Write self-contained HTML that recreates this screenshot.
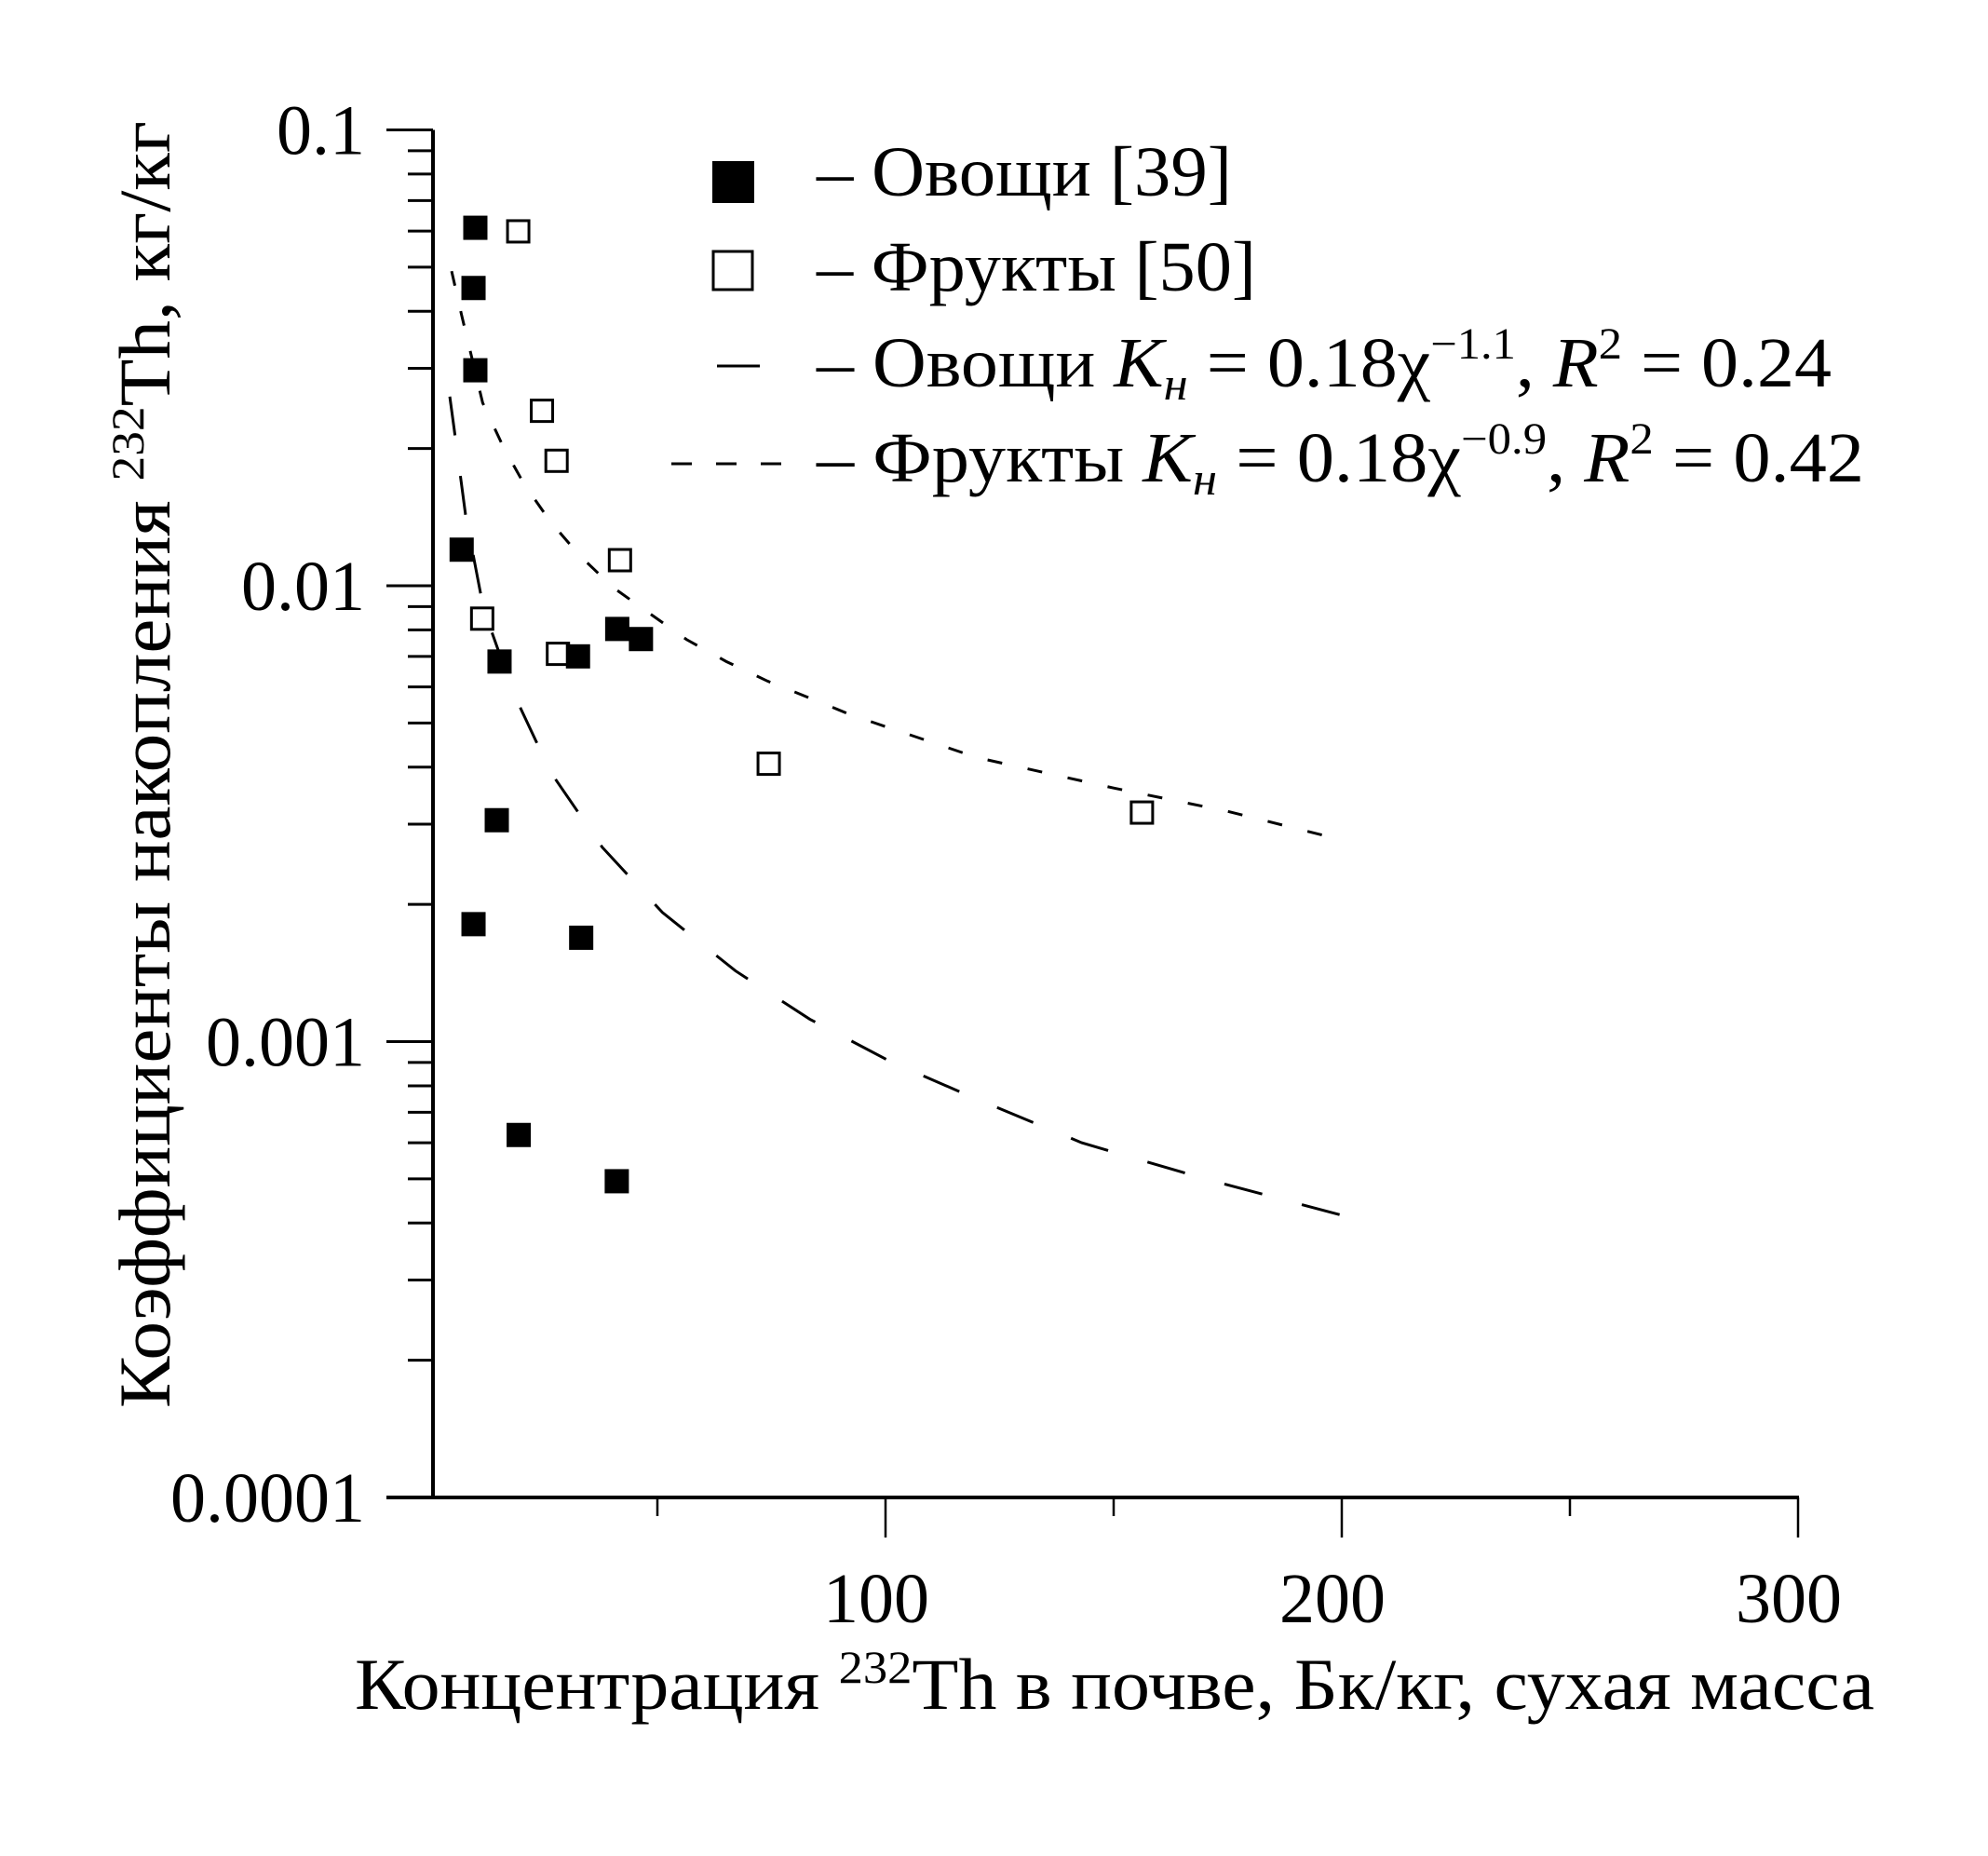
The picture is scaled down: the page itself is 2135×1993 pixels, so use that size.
<!DOCTYPE html>
<html><head><meta charset="utf-8"><style>
html,body{margin:0;padding:0;background:#fff;}
svg{display:block;font-family:"Liberation Serif","Noto Serif CJK SC",serif;}
</style></head><body>
<svg id="chart" width="2135" height="1993" viewBox="0 0 2135 1993" xmlns="http://www.w3.org/2000/svg">
<rect x="0" y="0" width="2135" height="1993" fill="#fff"/>
<g id="axes"></g>
<g id="curves"></g>
<g id="points"></g>
<text transform="translate(182,821) rotate(-90)" text-anchor="middle" font-size="78" textLength="1382" lengthAdjust="spacingAndGlyphs">Коэффициенты накопления <tspan font-size="50" dy="-28">232</tspan><tspan dy="28">Th, кг/кг</tspan></text>
<text x="381" y="1835" font-size="78" textLength="1632" lengthAdjust="spacingAndGlyphs">Концентрация <tspan font-size="50" dy="-28">232</tspan><tspan dy="28">Th в почве, Бк/кг, сухая масса</tspan></text>
<g>
  <rect x="765" y="173" width="45" height="45" fill="#000"/>
  <text x="877" y="210" font-size="76" textLength="446" lengthAdjust="spacingAndGlyphs">– Овощи [39]</text>
  <rect x="766" y="270" width="42" height="41" fill="#fff" stroke="#000" stroke-width="3"/>
  <text x="877" y="312" font-size="76" textLength="472" lengthAdjust="spacingAndGlyphs">– Фрукты [50]</text>
  <line x1="770" y1="393" x2="816" y2="393" stroke="#000" stroke-width="3"/>
  <text x="877" y="415" font-size="76" textLength="1090" lengthAdjust="spacingAndGlyphs">– Овощи <tspan font-style="italic">K</tspan><tspan font-style="italic" font-size="50" dy="14">н</tspan><tspan dy="-14"> = 0.18χ</tspan><tspan font-size="48" dy="-30">−1.1</tspan><tspan dy="30">, </tspan><tspan font-style="italic">R</tspan><tspan font-size="48" dy="-30">2</tspan><tspan dy="30"> = 0.24</tspan></text>
  <line x1="721" y1="498" x2="843" y2="498" stroke="#000" stroke-width="3" stroke-dasharray="22 26"/>
  <text x="877" y="517" font-size="76" textLength="1125" lengthAdjust="spacingAndGlyphs">– Фрукты <tspan font-style="italic">K</tspan><tspan font-style="italic" font-size="50" dy="14">н</tspan><tspan dy="-14"> = 0.18χ</tspan><tspan font-size="48" dy="-30">−0.9</tspan><tspan dy="30">, </tspan><tspan font-style="italic">R</tspan><tspan font-size="48" dy="-30">2</tspan><tspan dy="30"> = 0.42</tspan></text>
</g>
</svg>
<script>
const xTicksMajor = [100, 200, 300];
const xTicksMinor = [50, 150, 250];
const yDecades = [0.1, 0.01, 0.001, 0.0001];
const yDecadeLabels = ["0.1", "0.01", "0.001", "0.0001"];
const vegX = [10.1, 9.7, 10.1, 7.1, 15.4, 32.6, 41.2, 46.4, 14.8, 9.7, 33.3, 19.6, 41.1];
const vegY = [0.061, 0.045, 0.0297, 0.012, 0.00682, 0.0070, 0.00804, 0.00764, 0.00306, 0.00181, 0.00169, 0.000624, 0.000494];
const fruitX = [19.5, 24.7, 27.9, 41.8, 11.6, 28.2, 74.4, 156.2];
const fruitY = [0.0599, 0.0242, 0.0188, 0.01138, 0.00847, 0.00709, 0.00407, 0.00318];
const vegFitX = [4.5, 5.4, 8.0, 11.9, 18.5, 26.6, 37.9, 51.1, 67.1, 83.4, 101.3, 118.4, 143, 170, 200];
const vegFitY = [0.026, 0.0223, 0.0142, 0.0089, 0.0058, 0.0039, 0.00267, 0.00192, 0.00143, 0.00112, 0.000902, 0.00076, 0.0006, 0.0005, 0.000416];
const fruitFitX = [4.9, 7.1, 11.7, 16.2, 20.8, 26.6, 32.9, 40.2, 48.4, 56.4, 65.1, 74.1, 83.8, 92.4, 120, 150, 175, 200];
const fruitFitY = [0.049, 0.0392, 0.0252, 0.0202, 0.0167, 0.0138, 0.01167, 0.00993, 0.00868, 0.00762, 0.00682, 0.00618, 0.00565, 0.00521, 0.0042, 0.0036, 0.0032, 0.00277];

const NS = "http://www.w3.org/2000/svg";
function sx(v){ return 461 + 4.90 * v; }
function sy(v){ return 139.5 + (-1 - Math.log10(v)) * 489.5; }
function mk(tag, attrs, parent){
  const e = document.createElementNS(NS, tag);
  for (const k in attrs) e.setAttribute(k, attrs[k]);
  parent.appendChild(e);
  return e;
}
const axes = document.getElementById('axes');
const yBot = sy(0.0001);
let el = mk('line', {x1:465, y1:139.5, x2:465, y2:yBot, stroke:'#000', 'stroke-width':4}, axes);


el = mk('line', {x1:415, y1:yBot, x2:sx(300)+1, y2:yBot, stroke:'#000', 'stroke-width':4}, axes);


yDecades.forEach((d, i) => {
  const y = sy(d);
  let t = mk('line', {x1:415, y1:y, x2:465, y2:y, stroke:'#000', 'stroke-width':3}, axes);
  
  
  let lb = mk('text', {x:392, y:y + 26, 'text-anchor':'end', 'font-size':76}, axes);
  lb.textContent = yDecadeLabels[i];
  
  
  if (i < yDecades.length - 1) {
    for (let m = 2; m <= 9; m++) {
      const ym = sy(d / 10 * m);
      let mt = mk('line', {x1:438, y1:ym, x2:465, y2:ym, stroke:'#000', 'stroke-width':3}, axes);
      
      
    }
  }
});
xTicksMajor.forEach(v => {
  let t = mk('line', {x1:sx(v), y1:yBot, x2:sx(v), y2:yBot+43, stroke:'#000', 'stroke-width':2.5}, axes);
  
  
  let lb = mk('text', {x:sx(v) - 10, y:1742, 'text-anchor':'middle', 'font-size':76}, axes);
  lb.textContent = String(v);
  
  
});
xTicksMinor.forEach(v => {
  let t = mk('line', {x1:sx(v), y1:yBot, x2:sx(v), y2:yBot+20, stroke:'#000', 'stroke-width':2.5}, axes);
  
  
});
const curves = document.getElementById('curves');
let vp = mk('polyline', {points: vegFitX.map((x,i)=>sx(x)+','+sy(vegFitY[i])).join(' '), fill:'none', stroke:'#000', 'stroke-width':3, 'stroke-dasharray':'42 44'}, curves);


let fp = mk('polyline', {points: fruitFitX.map((x,i)=>sx(x)+','+sy(fruitFitY[i])).join(' '), fill:'none', stroke:'#000', 'stroke-width':3, 'stroke-dasharray':'16 28'}, curves);


const pts = document.getElementById('points');
vegX.forEach((x, i) => {
  let r = mk('rect', {x:sx(x)-13, y:sy(vegY[i])-13, width:26, height:26, fill:'#000'}, pts);
  
  
});
fruitX.forEach((x, i) => {
  let r = mk('rect', {x:sx(x)-11.5, y:sy(fruitY[i])-11.5, width:23, height:23, fill:'none', stroke:'#000', 'stroke-width':3}, pts);
  
  
});
</script>
</body></html>
